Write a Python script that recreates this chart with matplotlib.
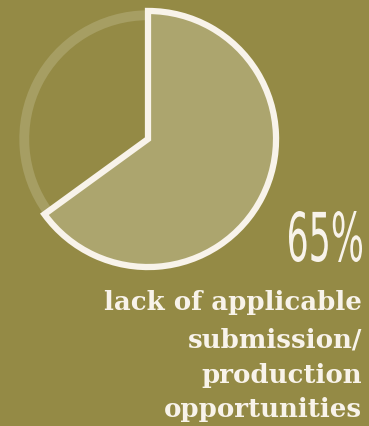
import matplotlib.pyplot as plt
from matplotlib.textpath import TextPath
from matplotlib.patches import PathPatch
from matplotlib.font_manager import FontProperties
from matplotlib.transforms import Affine2D, IdentityTransform

# values
labels = ['lack of applicable submission/production opportunities', 'other']
values = [65, 35]
pct_text = '65%'
caption = ['lack of applicable', 'submission/', 'production', 'opportunities']

bg = '#948a45'
fill = '#aca56e'
ring = '#a69e63'
cream = '#f8f3ea'

fig = plt.figure(figsize=(3.69, 4.27), dpi=100)
fig.patch.set_facecolor(bg)

# pie axes, placed in pixels
W, H = 369, 427
cx, cy, r = 148, 140, 132
m = 1.03
ax = fig.add_axes([(cx - r * m) / W, 1 - (cy + r * m) / H, 2 * r * m / W, 2 * r * m / H])
ax.set_facecolor(bg)

# faint ring for the rest of the circle
ax.pie(values, radius=0.975, startangle=90, counterclock=False,
       colors=['none', ring], wedgeprops=dict(width=0.075, linewidth=0))
# main wedge
wedges, _ = ax.pie(values, radius=0.97, startangle=90, counterclock=False,
                   colors=[fill, 'none'],
                   wedgeprops=dict(linewidth=0))
wedges[0].set_edgecolor(cream)
wedges[0].set_linewidth(4.5)
wedges[0].set_joinstyle('miter')
ax.set_xlim(-m, m)
ax.set_ylim(-m, m)
ax.set_aspect('equal')
ax.axis('off')

# big percentage, squeezed narrow like the hand lettering
tp = TextPath((0, 0), pct_text, size=50, prop=FontProperties(family='DejaVu Sans'))
ext = tp.get_extents()
x0, x1, top, bot = 289, 362, 212, 263
sx = (x1 - x0) / ext.width
sy = (bot - top) / ext.height
tr = Affine2D().translate(-ext.x0, -ext.y0).scale(sx, sy).translate(x0, H - bot)
fig.patches.append(PathPatch(tr.transform_path(tp), facecolor=cream, edgecolor='none',
                             transform=IdentityTransform(), figure=fig))

ys = [303, 340, 376, 410]
for line, y in zip(caption, ys):
    fig.text(362 / W, 1 - y / H, line, ha='right', va='center', color=cream,
             fontsize=18.7, family='DejaVu Serif', weight='bold')

fig.savefig('out.png', dpi=100, facecolor=bg)
